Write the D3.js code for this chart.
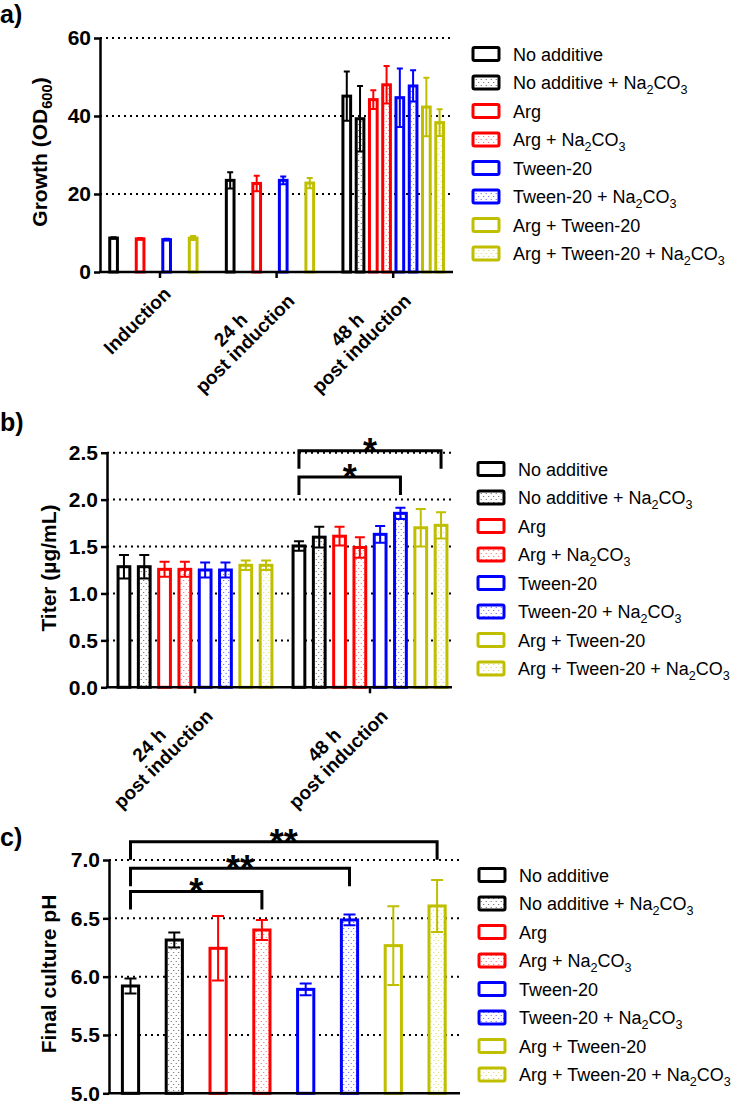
<!DOCTYPE html>
<html>
<head>
<meta charset="utf-8">
<script src="https://cdn.jsdelivr.net/npm/d3@7"></script>
<style>
  body { margin: 0; background: #fff; }
  svg { display: block; }
  text { font-family: "Liberation Sans", Arial, sans-serif; }
</style>
</head>
<body>
<script>
/* Series (legend) */
const series = ["No additive", "No additive + Na_{2}CO_{3}", "Arg", "Arg + Na_{2}CO_{3}",
  "Tween-20", "Tween-20 + Na_{2}CO_{3}", "Arg + Tween-20", "Arg + Tween-20 + Na_{2}CO_{3}"]
const colors = ["#000000", "#000000", "#ff0000", "#ff0000", "#0000ff", "#0000ff", "#bfbf00", "#bfbf00"]

/* a) Growth */
const growthGroups = ["Induction", "24 h\npost induction", "48 h\npost induction"]
const growthTicks = [0, 20, 40, 60]
const growthMean = [
  [8.7, null, 8.5, null, 8.3, null, 8.7, null],
  [23.5, null, 22.7, null, 23.5, null, 22.8, null],
  [45.1, 39.3, 44.2, 48.0, 44.7, 47.7, 42.3, 38.3]
]
const growthErr = [
  [0.2, null, 0.2, null, 0.2, null, 0.5, null],
  [2.1, null, 2.0, null, 1.0, null, 1.3, null],
  [6.3, 8.4, 2.4, 4.8, 7.5, 4.0, 7.5, 3.4]
]

/* b) Titer */
const titerGroups = ["24 h\npost induction", "48 h\npost induction"]
const titerTicks = [0, 0.5, 1.0, 1.5, 2.0, 2.5]
const titerMean = [
  [1.285, 1.285, 1.257, 1.257, 1.25, 1.25, 1.30, 1.30],
  [1.506, 1.60, 1.61, 1.49, 1.63, 1.854, 1.70, 1.726]
]
const titerErr = [
  [0.125, 0.125, 0.08, 0.08, 0.08, 0.08, 0.05, 0.05],
  [0.05, 0.11, 0.10, 0.11, 0.09, 0.06, 0.20, 0.14]
]
const titerSig = [
  { group: 1, from: 0, to: 5, level: 2.24, label: "*" },
  { group: 1, from: 0, to: 7, level: 2.52, label: "*" }
]

/* c) Final pH */
const phGroups = ["Final"]
const phTicks = [5.0, 5.5, 6.0, 6.5, 7.0]
const phMean = [[5.92, 6.314, 6.243, 6.40, 5.891, 6.486, 6.266, 6.606]]
const phErr = [[0.065, 0.065, 0.277, 0.086, 0.05, 0.046, 0.337, 0.223]]
const phSig = [
  { group: 0, from: 0, to: 3, level: 6.73, label: "*" },
  { group: 0, from: 0, to: 5, level: 6.93, label: "**" },
  { group: 0, from: 0, to: 7, level: 7.157, label: "**" }
]

/* Create svg-element. */
const svg = d3.select("body")
  .append("svg")
  .attr("width", 750)
  .attr("height", 1106)

/* Dotted fill patterns, one per colour. */
const defs = svg.append("defs")
const uniqueColors = [...new Set(colors)]
uniqueColors.forEach((c, i) => {
  const pat = defs.append("pattern")
    .attr("id", "dots" + i)
    .attr("patternUnits", "userSpaceOnUse")
    .attr("width", 5)
    .attr("height", 6)
  pat.append("rect").attr("width", 5).attr("height", 6).attr("fill", "#fff")
  pat.append("circle").attr("cx", 1.2).attr("cy", 1.5).attr("r", 0.6).attr("fill", c).attr("opacity", 0.7)
  pat.append("circle").attr("cx", 3.7).attr("cy", 4.5).attr("r", 0.6).attr("fill", c).attr("opacity", 0.7)
})
const fillFor = si => si % 2 ? `url(#dots${uniqueColors.indexOf(colors[si])})` : "#fff"

/* Text with _{subscript} parts. */
function richText(sel, str, fs) {
  const parts = str.split(/_\{([^}]*)\}/)
  let shifted = false
  parts.forEach((p, i) => {
    if (!p) return
    const t = sel.append("tspan").text(p)
    if (i % 2 === 1) {
      t.attr("font-size", fs * 0.7).attr("dy", fs * 0.25)
      shifted = true
    } else if (shifted) {
      t.attr("dy", -fs * 0.25)
      shifted = false
    }
  })
}

/* Draw one panel. */
function drawPanel(p) {
  const g = svg.append("g")

  const y = d3.scaleLinear().domain(p.domain).range([p.bottom, p.top])
  const x0 = d3.scaleBand().domain(p.groups).range(p.groupRange)
    .paddingInner(p.groupPad).paddingOuter(p.groupPad / 2)
  const x1 = d3.scaleBand().domain(d3.range(series.length)).range([0, x0.bandwidth()])
    .paddingInner(p.barPad).paddingOuter(p.barPad / 2)
  const y0 = y(p.domain[0])

  // gridlines
  g.append("g").selectAll("line")
    .data(p.ticks.slice(1))
    .join("line")
    .attr("x1", p.left).attr("x2", p.right)
    .attr("y1", d => y(d)).attr("y2", d => y(d))
    .attr("stroke", "#000")
    .attr("stroke-width", 2)
    .attr("stroke-dasharray", "2,4")

  // bars
  const cells = []
  p.groups.forEach((grp, gi) => p.means[gi].forEach((m, si) => {
    if (m != null) cells.push({ grp, gi, si, m, e: p.errs[gi][si] })
  }))
  const cx = (gi, si) => x0(p.groups[gi]) + x1(si) + x1.bandwidth() / 2

  g.append("g").selectAll("rect")
    .data(cells)
    .join("rect")
    .attr("x", d => x0(d.grp) + x1(d.si))
    .attr("width", x1.bandwidth())
    .attr("y", d => y(d.m))
    .attr("height", d => y0 - y(d.m))
    .attr("fill", d => fillFor(d.si))
    .attr("stroke", d => colors[d.si])
    .attr("stroke-width", 3)

  // error bars
  const c = p.capW / 2
  g.append("g").selectAll("path")
    .data(cells)
    .join("path")
    .attr("d", d => {
      const x = cx(d.gi, d.si), t = y(d.m + d.e), b = y(d.m - d.e)
      return `M${x - c},${t}H${x + c}M${x},${t}V${b}M${x - c},${b}H${x + c}`
    })
    .attr("fill", "none")
    .attr("stroke", d => colors[d.si])
    .attr("stroke-width", 2)

  // y axis
  const ya = g.append("g")
    .attr("transform", `translate(${p.left},0)`)
    .call(d3.axisLeft(y).tickValues(p.ticks).tickFormat(p.fmt).tickSize(6).tickSizeOuter(0).tickPadding(3))
  ya.select(".domain").attr("stroke-width", 2.5)
  ya.selectAll(".tick line").attr("stroke-width", 2.5)
  ya.selectAll(".tick text")
    .attr("font-family", '"Liberation Sans", Arial, sans-serif')
    .attr("font-size", 21).attr("font-weight", "bold").attr("fill", "#000")

  // x axis line
  g.append("line")
    .attr("x1", p.left - 1).attr("x2", p.right)
    .attr("y1", y0).attr("y2", y0)
    .attr("stroke", "#000").attr("stroke-width", 2.5)

  if (p.xLabels) {
    const xa = g.append("g")
      .attr("transform", `translate(0,${y0})`)
      .call(d3.axisBottom(x0).tickSize(6).tickFormat(""))
    xa.select(".domain").remove()
    xa.selectAll(".tick line").attr("stroke-width", 2.5)

    p.groups.forEach(grp => {
      const lines = grp.split("\n")
      const lg = g.append("g")
        .attr("transform", `translate(${x0(grp) + x0.bandwidth() / 2 + 12},${y0 + 23}) rotate(-45)`)
      const texts = lines.map((l, i) => lg.append("text")
        .attr("y", (i - (lines.length - 1) / 2) * 20)
        .attr("font-size", 19).attr("font-weight", "bold")
        .text(l))
      const w = d3.max(texts, t => t.node().getComputedTextLength())
      texts.forEach(t => t.attr("x", -w / 2).attr("text-anchor", "middle"))
    })
  }

  // significance brackets
  ;(p.sig || []).forEach(s => {
    const xa = cx(s.group, s.from), xb = cx(s.group, s.to), ly = y(s.level)
    g.append("path")
      .attr("d", `M${xa},${ly + 18}V${ly}H${xb}V${ly + 18}`)
      .attr("fill", "none").attr("stroke", "#000").attr("stroke-width", 3)
    g.append("text")
      .attr("x", (xa + xb) / 2).attr("y", ly + 13)
      .attr("text-anchor", "middle")
      .attr("font-size", 36).attr("font-weight", "bold")
      .text(s.label)
  })

  // y title
  const tt = g.append("text")
    .attr("transform", `translate(${p.titleX},${p.titleY}) rotate(-90)`)
    .attr("text-anchor", "middle")
    .attr("font-size", 21).attr("font-weight", "bold")
  richText(tt, p.title, 21)

  // panel label
  g.append("text")
    .attr("x", 0).attr("y", p.labelY)
    .attr("font-size", 25).attr("font-weight", "bold")
    .text(p.label)

  // legend
  const lg = g.append("g")
  series.forEach((s, i) => {
    const ry = p.legendY + i * 28.5
    lg.append("rect")
      .attr("x", p.boxX).attr("y", ry - 6.5)
      .attr("width", 26).attr("height", 13).attr("rx", 1.5)
      .attr("fill", fillFor(i))
      .attr("stroke", colors[i]).attr("stroke-width", 3)
    const t = lg.append("text")
      .attr("x", p.textX).attr("y", ry + 6.5)
      .attr("font-size", 18)
    richText(t, s, 18)
  })
}

drawPanel({
  label: "a)", labelY: 23,
  title: "Growth (OD_{600})", titleX: 47, titleY: 152,
  left: 100, right: 453, top: 38, bottom: 272,
  domain: [0, 60], ticks: growthTicks, fmt: d3.format("d"),
  groups: growthGroups, means: growthMean, errs: growthErr,
  groupRange: [101.7, 451.5], groupPad: 0.09, barPad: 0.42, capW: 6,
  xLabels: true,
  legendY: 54, boxX: 473, textX: 513
})

drawPanel({
  label: "b)", labelY: 431,
  title: "Titer (µg/mL)", titleX: 56, titleY: 568,
  left: 107, right: 452, top: 452.7, bottom: 687.3,
  domain: [0, 2.5], ticks: titerTicks, fmt: d3.format(".1f"),
  groups: titerGroups, means: titerMean, errs: titerErr,
  groupRange: [107.5, 457.5], groupPad: 0.072, barPad: 0.42, capW: 10,
  xLabels: true, sig: titerSig,
  legendY: 469, boxX: 478, textX: 518
})

drawPanel({
  label: "c)", labelY: 846,
  title: "Final culture pH", titleX: 56, titleY: 974,
  left: 109, right: 460, top: 860, bottom: 1093.3,
  domain: [5, 7], ticks: phTicks, fmt: d3.format(".1f"),
  groups: phGroups, means: phMean, errs: phErr,
  groupRange: [108.6, 459], groupPad: 0, barPad: 0.63, capW: 12,
  xLabels: false, sig: phSig,
  legendY: 875, boxX: 479, textX: 519
})
</script>
</body>
</html>
